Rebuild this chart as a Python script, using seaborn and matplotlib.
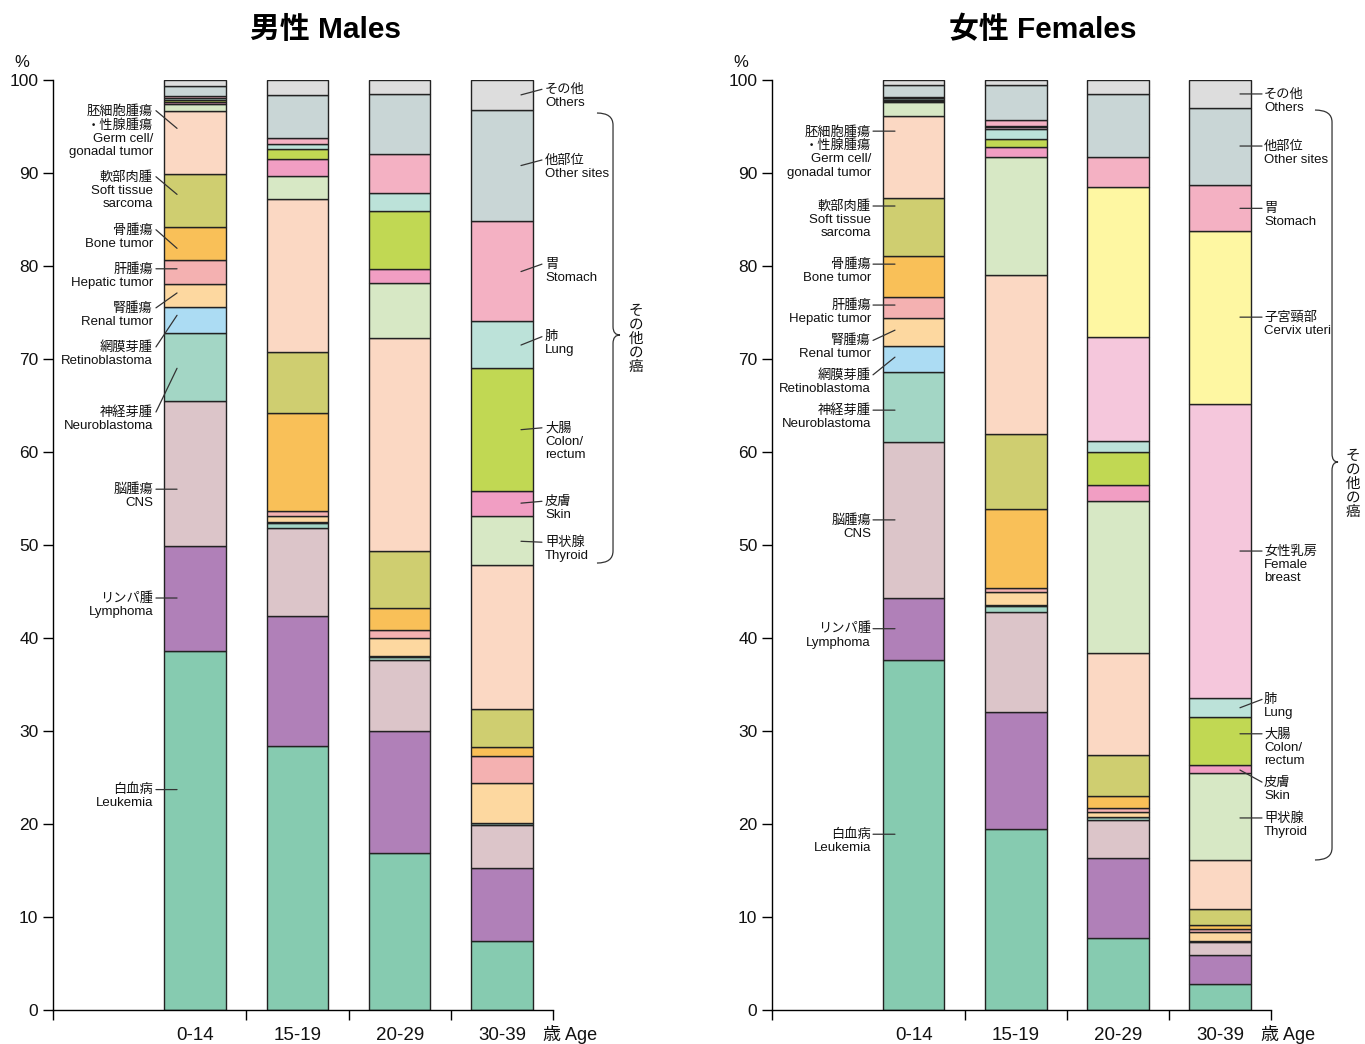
import numpy as np
import pandas as pd
import matplotlib
matplotlib.use("Agg")
import matplotlib.pyplot as plt
import seaborn as sns
from matplotlib.path import Path
from matplotlib.patches import PathPatch

# ---------------- data ----------------
ages = ["0-14", "15-19", "20-29", "30-39"]

# stacking order, bottom -> top
categories = ["Leukemia", "Lymphoma", "CNS", "Neuroblastoma", "Retinoblastoma",
              "Renal", "Hepatic", "Bone", "Soft tissue", "Germ cell",
              "Thyroid", "Skin", "Colon", "Lung", "Breast", "Cervix",
              "Stomach", "Other sites", "Others"]

colors = ["#86cbb0", "#b080b8", "#dcc5c9", "#a3d6c5", "#acdcf3",
          "#fdd8a0", "#f4b1b1", "#f9c058", "#cfce70", "#fbd8c3",
          "#d7e8c5", "#f19ec3", "#c1d853", "#bce2d9", "#f5c7dc", "#fef7a2",
          "#f4b1c3", "#c9d6d6", "#dddddd"]

# Males (percent, same category order; no breast / cervix)
male_0_14  = [38.6, 11.3, 15.6, 7.3, 2.8, 2.5, 2.5, 3.6, 5.7, 6.8, 0.7, 0.2, 0.2, 0.3, 0.0, 0.0, 0.2, 1.05, 0.65]
male_15_19 = [28.4, 14.0, 9.4, 0.6, 0.1, 0.6, 0.6, 10.5, 6.6, 16.4, 2.5, 1.8, 1.1, 0.5, 0.0, 0.0, 0.7, 4.6, 1.6]
male_20_29 = [16.9, 13.1, 7.6, 0.4, 0.1, 1.9, 0.9, 2.3, 6.2, 22.9, 5.9, 1.5, 6.2, 2.0, 0.0, 0.0, 4.1, 6.45, 1.55]
male_30_39 = [7.45, 7.85, 4.6, 0.2, 0.05, 4.3, 2.9, 0.95, 4.1, 15.4, 5.3, 2.75, 13.2, 5.0, 0.0, 0.0, 10.8, 11.9, 3.25]

# Females
female_0_14  = [37.6, 6.7, 16.8, 7.5, 2.8, 3.0, 2.3, 4.4, 6.2, 8.8, 1.5, 0.15, 0.15, 0.15, 0.0, 0.0, 0.1, 1.3, 0.55]
female_15_19 = [19.5, 12.5, 10.75, 0.7, 0.1, 1.35, 0.5, 8.5, 8.0, 17.1, 12.75, 1.05, 0.85, 1.05, 0.2, 0.2, 0.55, 3.85, 0.5]
female_20_29 = [7.7, 8.6, 4.1, 0.3, 0.1, 0.5, 0.4, 1.3, 4.4, 11.0, 16.3, 1.7, 3.6, 1.2, 11.2, 16.05, 3.25, 6.75, 1.55]
female_30_39 = [2.8, 3.1, 1.4, 0.1, 0.05, 0.9, 0.4, 0.4, 1.75, 5.25, 9.3, 0.9, 5.2, 1.95, 31.7, 18.6, 4.9, 8.25, 3.05]

# label texts
lab_left = {
    "Germ cell": "胚細胞腫瘍\n・性腺腫瘍\nGerm cell/\ngonadal tumor",
    "Soft tissue": "軟部肉腫\nSoft tissue\nsarcoma",
    "Bone": "骨腫瘍\nBone tumor",
    "Hepatic": "肝腫瘍\nHepatic tumor",
    "Renal": "腎腫瘍\nRenal tumor",
    "Retinoblastoma": "網膜芽腫\nRetinoblastoma",
    "Neuroblastoma": "神経芽腫\nNeuroblastoma",
    "CNS": "脳腫瘍\nCNS",
    "Lymphoma": "リンパ腫\nLymphoma",
    "Leukemia": "白血病\nLeukemia",
}
lab_right = {
    "Others": "その他\nOthers",
    "Other sites": "他部位\nOther sites",
    "Stomach": "胃\nStomach",
    "Cervix": "子宮頸部\nCervix uteri",
    "Breast": "女性乳房\nFemale\nbreast",
    "Lung": "肺\nLung",
    "Colon": "大腸\nColon/\nrectum",
    "Skin": "皮膚\nSkin",
    "Thyroid": "甲状腺\nThyroid",
}

# label placement (first-line y, anchor y) in % units
male_left_pos = {
    "Germ cell": (96.7, 94.8), "Soft tissue": (89.6, 87.7), "Bone": (83.9, 81.9),
    "Hepatic": (79.7, 79.7), "Renal": (75.5, 77.1), "Retinoblastoma": (71.3, 74.7),
    "Neuroblastoma": (64.3, 69.0), "CNS": (56.0, 56.0), "Lymphoma": (44.3, 44.3),
    "Leukemia": (23.7, 23.7),
}
male_right_pos = {
    "Others": (99.0, 98.4), "Other sites": (91.4, 90.8), "Stomach": (80.2, 79.4),
    "Lung": (72.4, 71.5), "Colon": (62.6, 62.4), "Skin": (54.7, 54.5),
    "Thyroid": (50.3, 50.4),
}
female_left_pos = {
    "Germ cell": (94.5, 94.5), "Soft tissue": (86.45, 86.45), "Bone": (80.2, 80.2),
    "Hepatic": (75.8, 75.8), "Renal": (72.0, 73.1), "Retinoblastoma": (68.3, 70.2),
    "Neuroblastoma": (64.5, 64.5), "CNS": (52.7, 52.7), "Lymphoma": (41.0, 41.0),
    "Leukemia": (18.9, 18.9),
}
female_right_pos = {
    "Others": (98.5, 98.5), "Other sites": (92.9, 92.9), "Stomach": (86.2, 86.2),
    "Cervix": (74.5, 74.5), "Breast": (49.35, 49.35), "Lung": (33.4, 32.5),
    "Colon": (29.7, 29.7), "Skin": (24.5, 25.8), "Thyroid": (20.65, 20.65),
}

# ---------------- style ----------------
sns.set_theme(style="ticks")
plt.rcParams["font.family"] = ["Liberation Sans", "Noto Sans CJK JP"]
plt.rcParams["axes.edgecolor"] = "black"
plt.rcParams["axes.linewidth"] = 1.0
plt.rcParams["text.color"] = "#111111"
plt.rcParams["xtick.color"] = "black"
plt.rcParams["ytick.color"] = "black"
plt.rcParams["xtick.labelcolor"] = "#111111"
plt.rcParams["ytick.labelcolor"] = "#111111"

palette = dict(zip(categories, colors))

fig = plt.figure(figsize=(13.65, 10.44), dpi=100)
ax_m = fig.add_axes([53 / 1365, 1 - 1010 / 1044, 500 / 1365, 930 / 1044])
ax_f = fig.add_axes([772 / 1365, 1 - 1010 / 1044, 499 / 1365, 930 / 1044])

XL, XR = -1.39, 3.5
LINE_PT = 10.08  # line pitch of the small labels in points (14 px)


def long_df(groups, cats):
    rows = []
    for i, vals in enumerate(groups):
        for c, v in zip(categories, vals):
            if c in cats:
                rows.append({"pos": i, "category": c, "value": v})
    return pd.DataFrame(rows)


def draw_bars(ax, groups, cats):
    df = long_df(groups, cats)
    order = [c for c in categories if c in cats][::-1]  # first level on top
    sns.histplot(data=df, x="pos", weights="value", hue="category",
                 hue_order=order, palette=palette, multiple="stack",
                 discrete=True, shrink=0.6, alpha=1, edgecolor="#222222",
                 linewidth=1.0, legend=False, ax=ax)
    ax.set_xlim(XL, XR)
    ax.set_ylim(0, 100)
    ax.set_xlabel("")
    ax.set_ylabel("")
    sns.despine(ax=ax)
    ax.set_yticks(range(0, 101, 10))
    ax.tick_params(axis="y", direction="out", length=7.5, width=1.0,
                   labelsize=12.5, pad=3, left=True)
    ax.set_xticks(range(len(ages)))
    ax.set_xticklabels(ages)
    ax.set_xticks([XL, 0.5, 1.5, 2.5, 3.5], minor=True)
    ax.tick_params(axis="x", which="major", length=0, pad=12, labelsize=13.5)
    ax.tick_params(axis="x", which="minor", length=7.5, width=1.0,
                   direction="out", bottom=True)
    ax.text(3.40, -2.6, "歳 Age", ha="left", va="center", fontsize=13,
            clip_on=False)


def label_text(ax, x, y, s, ha):
    n = s.count("\n")
    ax.annotate(s, xy=(x, y), xytext=(0, -n * LINE_PT / 2),
                textcoords="offset points", ha=ha, va="center",
                fontsize=9.5, linespacing=1.13, annotation_clip=False)


def add_labels(ax, left_pos, right_pos, xl, xr):
    # xl: (text_x, line_start_x, anchor_x); xr: (anchor_x, line_end_x, text_x)
    for key, (ty, ay) in left_pos.items():
        ax.annotate("", xy=(xl[2], ay), xytext=(xl[1], ty),
                    arrowprops=dict(arrowstyle="-", color="#333333", lw=0.9,
                                    shrinkA=0, shrinkB=0),
                    annotation_clip=False)
        label_text(ax, xl[0], ty, lab_left[key], "right")
    for key, (ty, ay) in right_pos.items():
        ax.annotate("", xy=(xr[0], ay), xytext=(xr[1], ty),
                    arrowprops=dict(arrowstyle="-", color="#333333", lw=0.9,
                                    shrinkA=0, shrinkB=0),
                    annotation_clip=False)
        label_text(ax, xr[2], ty, lab_right[key], "left")


def add_brace(ax, x0, xv, xp, ytop, ybot, ymid, tx, ty):
    r = 1.3
    rm = 0.9
    verts = [(x0, ytop), (xv, ytop), (xv, ytop - r),
             (xv, ymid + rm), (xv, ymid), (xp, ymid),
             (xv, ymid), (xv, ymid - rm),
             (xv, ybot + r), (xv, ybot), (x0, ybot)]
    codes = [Path.MOVETO, Path.CURVE3, Path.CURVE3,
             Path.LINETO, Path.CURVE3, Path.CURVE3,
             Path.CURVE3, Path.CURVE3,
             Path.LINETO, Path.CURVE3, Path.CURVE3]
    ax.add_patch(PathPatch(Path(verts, codes), fill=False, lw=0.9,
                           edgecolor="#333333", clip_on=False))
    ax.text(tx, ty, "そ\nの\n他\nの\n癌", ha="center", va="center",
            fontsize=10.5, linespacing=1.0, clip_on=False)


male_cats = [c for c in categories if c not in ("Breast", "Cervix")]
draw_bars(ax_m, [male_0_14, male_15_19, male_20_29, male_30_39], male_cats)
draw_bars(ax_f, [female_0_14, female_15_19, female_20_29, female_30_39], categories)

add_labels(ax_m, male_left_pos, male_right_pos,
           (-0.412, -0.383, -0.177), (3.187, 3.392, 3.422))
add_labels(ax_f, female_left_pos, female_right_pos,
           (-0.420, -0.400, -0.185), (3.196, 3.412, 3.432))

add_brace(ax_m, 3.93, 4.087, 4.155, 96.45, 48.06, 72.58, 4.312, 72.15)
add_brace(ax_f, 3.931, 4.098, 4.157, 96.77, 16.13, 58.92, 4.304, 56.56)

fig.text(325 / 1365, 1 - 30 / 1044, "男性 Males", ha="center", va="center",
         fontsize=21.5, fontweight="bold", color="black")
fig.text(1043 / 1365, 1 - 30 / 1044, "女性 Females", ha="center", va="center",
         fontsize=21.5, fontweight="bold", color="black")
fig.text(22 / 1365, 1 - 62 / 1044, "%", ha="center", va="center", fontsize=12)
fig.text(741 / 1365, 1 - 62 / 1044, "%", ha="center", va="center", fontsize=12)

fig.savefig("out.png", dpi=100, facecolor="white")
